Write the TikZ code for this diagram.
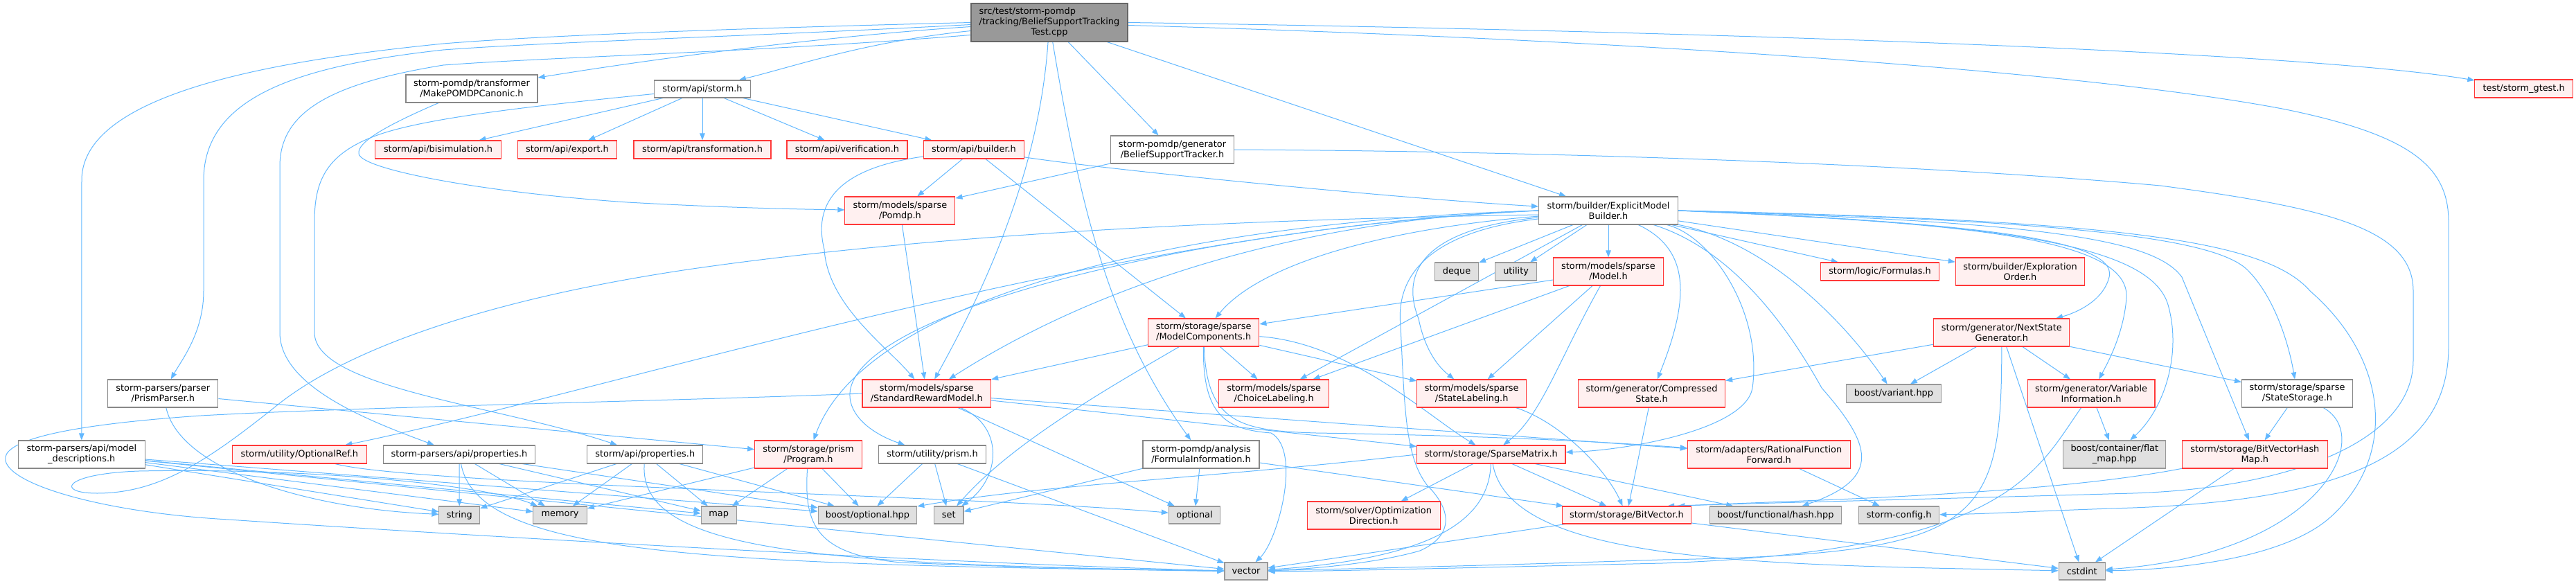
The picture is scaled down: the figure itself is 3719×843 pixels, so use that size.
\documentclass[tikz,border=0pt]{standalone}
\usepackage{fontspec}
\newfontfamily\dvs{DejaVu Sans}
\usetikzlibrary{arrows.meta,backgrounds}
\definecolor{edgec}{HTML}{63B8FF}
\definecolor{redb}{HTML}{FF3838}
\definecolor{redf}{HTML}{FFF0F0}
\definecolor{grayb}{HTML}{999999}
\definecolor{grayf}{HTML}{E0E0E0}
\definecolor{rootf}{HTML}{999999}
\definecolor{rootb}{HTML}{666666}
\definecolor{whiteb}{HTML}{888888}
\tikzset{
 base/.style={rectangle,draw,inner sep=0pt,align=center,line width=1.1pt,font=\dvs\fontsize{12.9}{15}\selectfont},
 rn/.style={base,draw=redb,fill=redf},
 wn/.style={base,draw=whiteb,fill=white},
 gn/.style={base,draw=grayb,fill=grayf},
 rootn/.style={base,draw=rootb,fill=rootf},
 conn/.style={draw=edgec,line width=1pt,-{Triangle[length=10pt,width=7.5pt]}}
}
\newcommand{\mkn}[7]{\node[#1,minimum width=#5pt,minimum height=#6pt] (#2) at (#3,#4) {#7};}
\newcommand{\edg}[2]{\draw[conn] (#1) -- (#2);}
\begin{document}
\begin{tikzpicture}[x=1pt,y=-1pt]
\useasboundingbox (0,0) rectangle (3719,843);
% ---------- nodes
\node[rootn,minimum width=226pt,minimum height=55pt] (root) at (1515,32.5) {\begin{tabular}{@{}l@{}}src/test/storm-pomdp\\/tracking/BeliefSupportTracking\\\multicolumn{1}{@{}c@{}}{Test.cpp}\end{tabular}};
\mkn{wn}{mpc}{681}{128}{190}{40}{storm-pomdp/transformer\\/MakePOMDPCanonic.h}
\mkn{wn}{stormh}{1014}{128.5}{139}{25}{storm/api/storm.h}
\mkn{rn}{bisim}{632.5}{216}{182}{26}{storm/api/bisimulation.h}
\mkn{rn}{export}{819}{216}{143}{26}{storm/api/export.h}
\mkn{rn}{transf}{1014}{216}{198}{26}{storm/api/transformation.h}
\mkn{rn}{verif}{1223}{216}{174}{26}{storm/api/verification.h}
\mkn{rn}{builder}{1406}{216}{144.5}{26}{storm/api/builder.h}
\mkn{wn}{bst}{1692.5}{216}{177.5}{40}{storm-pomdp/generator\\/BeliefSupportTracker.h}
\mkn{rn}{pomdp}{1299.4}{304}{159}{40}{storm/models/sparse\\/Pomdp.h}
\mkn{wn}{emb}{2322}{304}{201}{40}{storm/builder/ExplicitModel\\Builder.h}
\mkn{gn}{deque}{2103}{392}{63}{26}{deque}
\mkn{gn}{utility}{2188.6}{392}{60}{26}{utility}
\mkn{rn}{model}{2322}{392}{159}{40}{storm/models/sparse\\/Model.h}
\mkn{rn}{formulas}{2714}{392}{170.6}{26}{storm/logic/Formulas.h}
\mkn{rn}{explorder}{2916.5}{392}{186.5}{40}{storm/builder/Exploration\\Order.h}
\mkn{rn}{gtest}{3643.7}{128}{141.6}{26}{test/storm\_gtest.h}
\mkn{rn}{modelcomp}{1737.7}{480}{160.4}{40}{storm/storage/sparse\\/ModelComponents.h}
\mkn{rn}{nsg}{2889.8}{480}{196}{40}{storm/generator/NextState\\Generator.h}
\mkn{wn}{prismparser}{235.3}{568}{159}{40}{storm-parsers/parser\\/PrismParser.h}
\mkn{rn}{srm}{1337.8}{568}{185.7}{40}{storm/models/sparse\\/StandardRewardModel.h}
\mkn{rn}{choicelab}{1839.2}{568}{159.2}{40}{storm/models/sparse\\/ChoiceLabeling.h}
\mkn{rn}{statelab}{2124.7}{568}{158}{40}{storm/models/sparse\\/StateLabeling.h}
\mkn{rn}{compressed}{2384.5}{568}{212.2}{40}{storm/generator/Compressed\\State.h}
\mkn{gn}{variant}{2733.9}{568}{136.3}{26}{boost/variant.hpp}
\mkn{rn}{varinfo}{3019.1}{568}{183.7}{40}{storm/generator/Variable\\Information.h}
\mkn{wn}{statestorage}{3316.5}{568}{160}{40}{storm/storage/sparse\\/StateStorage.h}
\mkn{wn}{modeldesc}{117.8}{656}{182.5}{40}{storm-parsers/api/model\\\_descriptions.h}
\mkn{rn}{optionalref}{432.4}{656}{194.7}{26}{storm/utility/OptionalRef.h}
\mkn{wn}{parsersprops}{663}{656}{218.3}{26}{storm-parsers/api/properties.h}
\mkn{wn}{apiprops}{931.3}{656}{167}{26}{storm/api/properties.h}
\mkn{rn}{program}{1167}{656}{154.7}{40}{storm/storage/prism\\/Program.h}
\mkn{wn}{utilprism}{1346}{656}{154.7}{26}{storm/utility/prism.h}
\mkn{wn}{formulainfo}{1734}{656}{168}{40}{storm-pomdp/analysis\\/FormulaInformation.h}
\mkn{rn}{sparsematrix}{2152.8}{656}{214.3}{26}{storm/storage/SparseMatrix.h}
\mkn{rn}{rff}{2553.7}{656}{234.7}{40}{storm/adapters/RationalFunction\\Forward.h}
\mkn{gn}{flatmap}{3052.8}{656}{148}{40}{boost/container/flat\\\_map.hpp}
\mkn{rn}{bvhm}{3255.3}{656}{209.8}{40}{storm/storage/BitVectorHash\\Map.h}
\mkn{gn}{string}{663.3}{743.5}{58.8}{25}{string}
\mkn{gn}{memory}{808.6}{743.5}{77.5}{25}{memory}
\mkn{gn}{map}{1037.7}{743.5}{51}{25}{map}
\mkn{gn}{boostoptional}{1252.5}{743.5}{142.5}{25}{boost/optional.hpp}
\mkn{gn}{set}{1369.8}{743.5}{42.4}{25}{set}
\mkn{gn}{optional}{1724.5}{743.5}{74.3}{25}{optional}
\mkn{rn}{optdir}{1983.2}{744}{191.8}{40}{storm/solver/Optimization\\Direction.h}
\mkn{rn}{bitvector}{2348.4}{743.5}{186.5}{25}{storm/storage/BitVector.h}
\mkn{gn}{hash}{2563.3}{743.5}{190.2}{25}{boost/functional/hash.hpp}
\mkn{gn}{stormconfig}{2741.7}{743.5}{115.9}{25}{storm-config.h}
\mkn{gn}{vector}{1799}{824.5}{62}{25}{vector}
\mkn{gn}{cstdint}{3005.7}{824.5}{67}{25}{cstdint}
% ---------- edges
\begin{scope}[on background layer]
% root
\draw[conn] (root.west) .. controls (1100,40) and (800,50) .. (640,63) .. controls (420,85) and (118,130) .. (118,260) -- (modeldesc);
\draw[conn] ([yshift=-3pt]root.west) .. controls (1100,52) and (800,60) .. (640,72) .. controls (430,95) and (294,140) .. (294,260) -- (294,420) .. controls (294,480) and (262,520) .. (prismparser);
\draw[conn] ([yshift=-18pt]root.west) .. controls (1100,75) and (800,82) .. (640,94) .. controls (480,120) and (404,160) .. (404,240) -- (404,480) .. controls (404,560) and (540,610) .. (parsersprops);
\draw[conn] ([yshift=-6pt]root.west) .. controls (1150,55) and (880,95) .. (mpc);
\draw[conn] ([yshift=-12pt]root.west) .. controls (1250,60) and (1150,95) .. (stormh);
\edg{root}{bst}
\edg{root}{emb}
\draw[conn] (root) .. controls (1500,250) and (1420,420) .. (srm);
\draw[conn] (root) .. controls (1560,300) and (1600,470) .. (formulainfo);
\draw[conn] (root.east) .. controls (2300,42) and (3300,70) .. (gtest);
\draw[conn] ([yshift=-4pt]root.east) .. controls (2300,55) and (3000,100) .. (3300,158) .. controls (3480,195) and (3535,240) .. (3535,320) -- (3535,500) .. controls (3535,640) and (3420,720) .. (3079,733) .. controls (2950,737) and (2870,742) .. (stormconfig);
% storm.h
\edg{stormh}{bisim}
\edg{stormh}{export}
\edg{stormh}{transf}
\edg{stormh}{verif}
\edg{stormh}{builder}
\draw[conn] ([yshift=-7pt]stormh.west) .. controls (800,150) and (620,168) .. (545,195) .. controls (470,222) and (454,262) .. (454,320) -- (454,480) .. controls (454,560) and (720,585) .. (apiprops);
% mpc
\draw[conn] (mpc) .. controls (560,180) and (515,205) .. (518,222) .. controls (522,245) and (700,278) .. (906,292) .. controls (1050,300) and (1150,302) .. (pomdp);
% builder
\edg{builder}{pomdp}
\draw[conn] (builder) .. controls (1600,245) and (2000,285) .. (emb);
\edg{builder}{modelcomp}
\draw[conn] (builder) .. controls (1230,240) and (1170,280) .. (1190,360) .. controls (1195,440) and (1280,500) .. (srm);
% bst
\edg{bst}{pomdp}
\draw[conn] (bst.east) .. controls (2200,218) and (2750,235) .. (3119,268) .. controls (3360,300) and (3484,330) .. (3484,420) -- (3484,520) .. controls (3484,640) and (3300,705) .. (3079,712) .. controls (2800,720) and (2550,726) .. ([xshift=-35pt]bitvector.north east);
\edg{pomdp}{srm}
% emb
\edg{emb}{deque}
\edg{emb}{utility}
\edg{emb}{model}
\edg{emb}{formulas}
\edg{emb}{explorder}
\draw[conn] (emb) .. controls (2000,330) and (1820,380) .. (modelcomp);
\edg{emb}{choicelab}
\draw[conn] (emb) .. controls (2060,330) and (2020,390) .. (2048,460) .. controls (2060,520) and (2090,540) .. (statelab);
\draw[conn] (emb) .. controls (2440,360) and (2440,430) .. (compressed);
\draw[conn] (emb.east) .. controls (2800,320) and (3060,340) .. (3045,400) .. controls (3035,440) and (2985,455) .. (nsg);
\draw[conn] (emb.east) .. controls (2850,322) and (3075,345) .. (3070,430) .. controls (3066,480) and (3045,520) .. (varinfo);
\draw[conn] (emb.east) .. controls (2900,322) and (3105,355) .. (3130,440) .. controls (3150,510) and (3125,590) .. (flatmap);
\draw[conn] (emb.east) .. controls (2950,320) and (3110,345) .. (3150,400) -- (bvhm);
\draw[conn] (emb.east) .. controls (3000,318) and (3200,345) .. (3245,390) .. controls (3285,430) and (3305,500) .. (statestorage);
\draw[conn] (emb.east) .. controls (3050,318) and (3270,345) .. (3335,420) .. controls (3450,520) and (3460,660) .. (3365,746) .. controls (3300,805) and (3150,822) .. (cstdint);
\draw[conn] (emb) .. controls (2550,350) and (2660,460) .. (variant);
\draw[conn] (emb) .. controls (2500,360) and (2580,470) .. (2630,560) .. controls (2700,640) and (2720,690) .. (hash);
\draw[conn] (emb) .. controls (2470,340) and (2545,450) .. (2530,560) .. controls (2520,620) and (2350,650) .. (sparsematrix);
\draw[conn] (emb.west) .. controls (1900,315) and (1600,400) .. (srm);
\draw[conn] (emb.west) .. controls (1700,320) and (1250,430) .. (program);
\draw[conn] (emb.west) .. controls (1700,330) and (1200,460) .. (1228,580) .. controls (1235,610) and (1270,630) .. (utilprism);
\draw[conn] (emb.west) .. controls (1600,330) and (900,560) .. (optionalref);
\draw[conn] ([yshift=-6pt]emb.west) .. controls (1700,318) and (1300,345) .. (1000,388) .. controls (700,432) and (500,505) .. (400,585) .. controls (300,665) and (230,712) .. (140,712) .. controls (80,712) and (90,684) .. (200,680) .. controls (450,675) and (700,700) .. (memory);
\draw[conn] (emb) .. controls (2060,335) and (2015,400) .. (2022,470) .. controls (2028,600) and (2030,660) .. (2060,700) .. controls (2100,740) and (2095,775) .. (2050,795) .. controls (1980,815) and (1880,822) .. (vector);
% model
\edg{model}{modelcomp}
\edg{model}{choicelab}
\edg{model}{statelab}
\draw[conn] (model) .. controls (2250,520) and (2225,600) .. (sparsematrix);
% model components
\edg{modelcomp}{srm}
\edg{modelcomp}{choicelab}
\edg{modelcomp}{statelab}
\draw[conn] (modelcomp) .. controls (1950,495) and (2060,600) .. (sparsematrix);
\draw[conn] (modelcomp) .. controls (1736,600) and (1770,620) .. (1835,625) .. controls (1880,650) and (1845,780) .. (vector);
\draw[conn] (modelcomp) .. controls (1600,560) and (1460,640) .. (set);
\draw[conn] (modelcomp) .. controls (1742,610) and (1790,622) .. (1900,625) .. controls (2100,628) and (2300,636) .. (rff);
% standard reward model
\edg{srm}{sparsematrix}
\edg{srm}{rff}
\edg{srm}{optional}
\draw[conn] (srm) .. controls (1450,615) and (1445,690) .. (set);
\draw[conn] (srm.west) .. controls (1000,578) and (500,588) .. (290,600) .. controls (70,615) and (2,640) .. (8,665) .. controls (15,700) and (150,740) .. (330,750) .. controls (700,775) and (1400,815) .. (vector);
% optional ref
\draw[conn] (optionalref) .. controls (600,700) and (1400,715) .. (optional);
% parsers
\edg{modeldesc}{string}
\edg{modeldesc}{memory}
\edg{modeldesc}{map}
\edg{modeldesc}{boostoptional}
\edg{modeldesc}{vector}
\edg{prismparser}{program}
\draw[conn] (prismparser) .. controls (260,680) and (450,735) .. (string);
\edg{parsersprops}{string}
\edg{parsersprops}{memory}
\edg{parsersprops}{map}
\edg{parsersprops}{boostoptional}
\draw[conn] (parsersprops) .. controls (690,800) and (1000,815) .. (vector);
\edg{apiprops}{string}
\edg{apiprops}{memory}
\edg{apiprops}{map}
\edg{apiprops}{boostoptional}
\draw[conn] (apiprops) .. controls (920,800) and (1200,815) .. (vector);
\edg{program}{memory}
\edg{program}{map}
\edg{program}{boostoptional}
\draw[conn] (program) .. controls (1160,760) and (1180,800) .. (1300,812) .. controls (1500,820) and (1700,824) .. (vector);
\edg{utilprism}{boostoptional}
\edg{utilprism}{set}
\edg{utilprism}{vector}
\edg{formulainfo}{optional}
\edg{formulainfo}{set}
\edg{formulainfo}{bitvector}
% sparse matrix
\edg{sparsematrix}{optdir}
\edg{sparsematrix}{bitvector}
\edg{sparsematrix}{hash}
\draw[conn] (sparsematrix) .. controls (2150,740) and (2090,805) .. (vector);
\draw[conn] (sparsematrix) .. controls (2180,815) and (2550,815) .. (cstdint);
\draw[conn] (sparsematrix.west) .. controls (1750,690) and (1500,700) .. (boostoptional);
\draw[conn] (statelab) .. controls (2255,610) and (2320,680) .. (bitvector);
\edg{compressed}{bitvector}
\edg{bitvector}{vector}
\edg{bitvector}{cstdint}
\edg{rff}{stormconfig}
% generator
\edg{nsg}{compressed}
\edg{nsg}{variant}
\edg{nsg}{varinfo}
\edg{nsg}{statestorage}
\edg{nsg}{cstdint}
\draw[conn] (nsg) .. controls (2890,760) and (2860,800) .. (2400,808) .. controls (2100,818) and (1900,822) .. (vector);
\edg{varinfo}{flatmap}
\draw[conn] (varinfo) .. controls (2940,680) and (2900,795) .. (2400,813) .. controls (2100,820) and (1900,825) .. (vector);
\edg{statestorage}{bvhm}
\draw[conn] (statestorage) .. controls (3430,630) and (3350,800) .. (cstdint);
\edg{bvhm}{cstdint}
\draw[conn] (bvhm) .. controls (2950,715) and (2600,722) .. ([xshift=-20pt]bitvector.north east);
\end{scope}
\end{tikzpicture}
\end{document}
